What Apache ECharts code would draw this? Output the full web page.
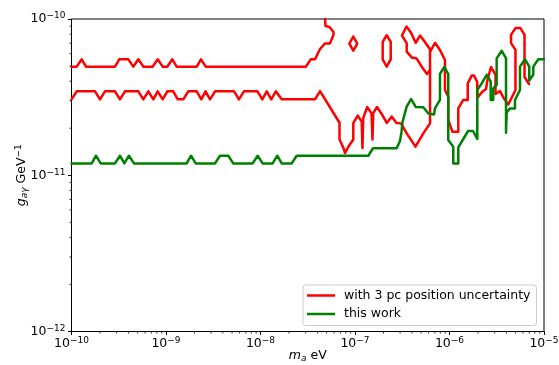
<!DOCTYPE html>
<html>
<head>
<meta charset="utf-8">
<script src="https://cdn.jsdelivr.net/npm/echarts@6/dist/echarts.min.js"></script>
<style>
html, body { margin: 0; padding: 0; background: #fff; }
#chart { width: 559px; height: 365px; }
</style>
</head>
<body>
<div id="chart"></div>
<script>
// Contours in the (m_a, g_aγ) plane, points given as [log10(m_a / eV), log10(g_aγ / GeV^-1)]

// "with 3 pc position uncertainty" - upper branch, leaves through the top edge
const redUpper = [
  [-10.000,-10.305],[-9.945,-10.305],[-9.892,-10.258],[-9.847,-10.305],[-9.540,-10.305],
  [-9.494,-10.258],[-9.399,-10.258],[-9.346,-10.305],[-9.293,-10.258],[-9.240,-10.305],
  [-9.141,-10.305],[-9.088,-10.258],[-9.035,-10.305],[-8.986,-10.305],[-8.933,-10.258],
  [-8.887,-10.305],[-8.675,-10.305],[-8.630,-10.258],[-8.580,-10.305],[-7.519,-10.305],
  [-7.469,-10.258],[-7.423,-10.258],[-7.370,-10.192],[-7.317,-10.156],[-7.265,-10.156],
  [-7.228,-10.102],[-7.228,-10.083],[-7.270,-10.051],[-7.312,-10.045],[-7.317,-10.000]
];

// "with 3 pc position uncertainty" - lower branch running across to the high-mass end
const redLower = [
  [-10.000,-10.514],[-9.945,-10.463],[-9.751,-10.463],[-9.698,-10.514],[-9.646,-10.463],
  [-9.540,-10.463],[-9.487,-10.514],[-9.434,-10.463],[-9.293,-10.463],[-9.240,-10.514],
  [-9.187,-10.463],[-9.134,-10.514],[-9.088,-10.463],[-9.035,-10.514],[-8.986,-10.463],
  [-8.923,-10.463],[-8.876,-10.514],[-8.817,-10.514],[-8.764,-10.463],[-8.675,-10.463],
  [-8.626,-10.514],[-8.582,-10.463],[-8.534,-10.514],[-8.481,-10.463],[-8.280,-10.463],
  [-8.228,-10.514],[-8.175,-10.463],[-8.032,-10.463],[-7.981,-10.514],[-7.934,-10.463],
  [-7.886,-10.514],[-7.838,-10.463],[-7.776,-10.514],[-7.423,-10.514],[-7.370,-10.461],
  [-7.164,-10.664],[-7.164,-10.771],[-7.122,-10.826],[-7.106,-10.858],[-7.069,-10.816],
  [-7.018,-10.771],[-7.018,-10.666],[-6.971,-10.618],[-6.929,-10.657],[-6.921,-10.826],
  [-6.913,-10.634],[-6.871,-10.563],[-6.825,-10.604],[-6.815,-10.771],[-6.807,-10.602],
  [-6.767,-10.563],[-6.707,-10.618],[-6.663,-10.666],[-6.612,-10.624],[-6.561,-10.666],
  [-6.513,-10.668],[-6.453,-10.732],[-6.360,-10.817],[-6.277,-10.732],[-6.206,-10.668],
  [-6.206,-10.194],[-6.270,-10.139],[-6.312,-10.106],[-6.358,-10.152],[-6.407,-10.088],
  [-6.455,-10.048],[-6.503,-10.106],[-6.453,-10.154],[-6.453,-10.209],[-6.400,-10.246],
  [-6.347,-10.253],[-6.294,-10.305],[-6.238,-10.352],[-6.206,-10.326],[-6.206,-10.211],
  [-6.153,-10.152],[-6.101,-10.198],[-6.048,-10.262],[-6.048,-10.454],[-6.013,-10.497],
  [-6.013,-10.646],[-5.970,-10.721],[-5.907,-10.721],[-5.907,-10.572],[-5.854,-10.518],
  [-5.807,-10.518],[-5.807,-10.412],[-5.765,-10.362],[-5.741,-10.362],[-5.706,-10.403],
  [-5.706,-10.506],[-5.656,-10.467],[-5.614,-10.448],[-5.598,-10.390],[-5.561,-10.307],
  [-5.513,-10.358],[-5.513,-10.480],[-5.466,-10.461],[-5.423,-10.509],[-5.378,-10.547],
  [-5.349,-10.512],[-5.302,-10.454],[-5.302,-10.198],[-5.349,-10.154],[-5.349,-10.102],
  [-5.302,-10.058],[-5.249,-10.058],[-5.206,-10.102],[-5.206,-10.371],[-5.159,-10.416]
];

// small closed islands of the same contour
const redDiamond = [
  [-7.018,-10.112],[-6.976,-10.158],[-7.018,-10.203],[-7.060,-10.158],[-7.018,-10.112]
];
const redHexagon = [
  [-6.665,-10.104],[-6.622,-10.147],[-6.622,-10.259],[-6.665,-10.305],
  [-6.707,-10.259],[-6.707,-10.147],[-6.665,-10.104]
];

// "this work"
const greenContour = [
  [-10.000,-10.924],[-9.786,-10.924],[-9.741,-10.875],[-9.691,-10.924],[-9.540,-10.924],
  [-9.487,-10.875],[-9.441,-10.924],[-9.392,-10.875],[-9.339,-10.924],[-8.781,-10.924],
  [-8.735,-10.875],[-8.686,-10.924],[-8.481,-10.924],[-8.429,-10.875],[-8.341,-10.875],
  [-8.288,-10.924],[-8.083,-10.924],[-8.030,-10.875],[-7.977,-10.924],[-7.871,-10.924],
  [-7.822,-10.875],[-7.776,-10.924],[-7.670,-10.924],[-7.617,-10.875],[-6.859,-10.875],
  [-6.810,-10.827],[-6.559,-10.827],[-6.524,-10.781],[-6.508,-10.723],[-6.497,-10.659],
  [-6.453,-10.561],[-6.407,-10.512],[-6.358,-10.563],[-6.277,-10.565],[-6.224,-10.605],
  [-6.164,-10.611],[-6.153,-10.570],[-6.101,-10.518],[-6.101,-10.352],[-6.055,-10.307],
  [-6.013,-10.352],[-6.013,-10.774],[-5.960,-10.817],[-5.960,-10.924],[-5.907,-10.924],
  [-5.907,-10.822],[-5.854,-10.768],[-5.804,-10.717],[-5.751,-10.717],[-5.706,-10.768],
  [-5.706,-10.454],[-5.659,-10.412],[-5.606,-10.358],[-5.564,-10.401],[-5.564,-10.518],
  [-5.537,-10.518],[-5.537,-10.444],[-5.501,-10.422],[-5.501,-10.252],[-5.448,-10.203],
  [-5.402,-10.252],[-5.402,-10.728],[-5.395,-10.598],[-5.360,-10.572],[-5.307,-10.572],
  [-5.307,-10.518],[-5.254,-10.454],[-5.254,-10.305],[-5.201,-10.258],[-5.156,-10.305],
  [-5.156,-10.394],[-5.113,-10.355],[-5.113,-10.305],[-5.060,-10.258],[-5.000,-10.258]
];

// axis decades (exponents of ten)
const xDecades = [-10, -9, -8, -7, -6, -5];
const yDecades = [-12, -11, -10];

const seriesNames = ['with 3 pc position uncertainty', 'this work'];
const seriesColors = ['#ff0000', '#008000'];

const FONT = 'DejaVu Sans';
const toValues = pts => pts.map(([a, b]) => [Math.pow(10, a), Math.pow(10, b)]);

function minorValues(decades) {
  const out = [];
  for (let i = 0; i < decades.length - 1; i++) {
    for (let k = 2; k <= 9; k++) out.push(k * Math.pow(10, decades[i]));
  }
  return out;
}

const xMin = Math.pow(10, xDecades[0]), xMax = Math.pow(10, xDecades[xDecades.length - 1]);
const yMin = Math.pow(10, yDecades[0]), yMax = Math.pow(10, yDecades[yDecades.length - 1]);

const powLabel = v => {
  const e = Math.round(Math.log10(v));
  return '{b|10}{s|' + (e < 0 ? '\u2212' : '') + Math.abs(e) + '}';
};
const powRich = {
  b: { fontFamily: FONT, fontSize: 12.5, color: '#000', lineHeight: 15 },
  s: { fontFamily: FONT, fontSize: 9, color: '#000', lineHeight: 9, verticalAlign: 'top' }
};

function lineSeries(name, color, pts) {
  return {
    type: 'line', name: name, data: toValues(pts),
    symbol: 'none', showSymbol: false, smooth: false,
    lineStyle: { color: color, width: 2.5, join: 'round', cap: 'round' },
    itemStyle: { color: color },
    emphasis: { disabled: true }, silent: true, z: 3
  };
}

function minorTickSeries(axis) {
  const vals = minorValues(axis === 'x' ? xDecades : yDecades);
  return {
    type: 'custom', silent: true, clip: false, z: 5,
    data: vals.map(v => axis === 'x' ? [v, yMin] : [xMin, v]),
    renderItem: (params, api) => {
      const p = api.coord([api.value(0), api.value(1)]);
      const shape = axis === 'x'
        ? { x1: p[0], y1: p[1], x2: p[0], y2: p[1] + 2 }
        : { x1: p[0] - 2, y1: p[1], x2: p[0], y2: p[1] };
      return { type: 'line', shape: shape, style: { stroke: '#000', lineWidth: 0.8 } };
    }
  };
}

const chart = echarts.init(document.getElementById('chart'), null, { renderer: 'canvas' });
chart.setOption({
  animation: false,
  backgroundColor: '#fff',
  grid: {
    left: 71.5, right: 15, top: 19, bottom: 33.5,
    containLabel: false, outerBoundsMode: 'none',
    show: true, borderColor: '#000', borderWidth: 1, backgroundColor: 'transparent'
  },
  xAxis: {
    type: 'log', logBase: 10, min: xMin, max: xMax,
    axisLine: { show: true, lineStyle: { color: '#000', width: 1 } },
    axisTick: { show: true, inside: false, length: 3.5, lineStyle: { color: '#000', width: 1 } },
    splitLine: { show: false }, minorTick: { show: false },
    axisLabel: { margin: 5, formatter: powLabel, rich: powRich, showMinLabel: true, showMaxLabel: true },
    name: '{i|m}{sb|a}{n| eV}', nameLocation: 'middle', nameGap: 17, nameMoveOverlap: false,
    nameTextStyle: {
      rich: {
        i: { fontFamily: FONT, fontSize: 12.5, fontStyle: 'italic', color: '#000', lineHeight: 15 },
        sb: { fontFamily: FONT, fontSize: 9, fontStyle: 'italic', color: '#000', lineHeight: 9, verticalAlign: 'bottom' },
        n: { fontFamily: FONT, fontSize: 12.5, color: '#000', lineHeight: 15 }
      }
    }
  },
  yAxis: {
    type: 'log', logBase: 10, min: yMin, max: yMax,
    axisLine: { show: true, lineStyle: { color: '#000', width: 1 } },
    axisTick: { show: true, inside: false, length: 3.5, lineStyle: { color: '#000', width: 1 } },
    splitLine: { show: false }, minorTick: { show: false },
    axisLabel: { margin: 6, formatter: powLabel, rich: powRich, showMinLabel: true, showMaxLabel: true },
    name: '{i|g}{sb|a\u03b3}{n| GeV}{sp|\u22121}', nameLocation: 'middle', nameGap: 42, nameRotate: 90,
    nameMoveOverlap: false,
    nameTextStyle: {
      rich: {
        i: { fontFamily: FONT, fontSize: 12.5, fontStyle: 'italic', color: '#000', lineHeight: 15 },
        sb: { fontFamily: FONT, fontSize: 9, fontStyle: 'italic', color: '#000', lineHeight: 9, verticalAlign: 'bottom' },
        n: { fontFamily: FONT, fontSize: 12.5, color: '#000', lineHeight: 15 },
        sp: { fontFamily: FONT, fontSize: 9, color: '#000', lineHeight: 9, verticalAlign: 'top' }
      }
    }
  },
  legend: {
    show: true, orient: 'vertical', left: 303, top: 285,
    data: seriesNames.map(n => ({ name: n, icon: 'rect' })),
    backgroundColor: 'rgba(255,255,255,0.8)', borderColor: '#cccccc', borderWidth: 1, borderRadius: 3,
    padding: [3, 6, 4, 4], itemWidth: 28, itemHeight: 2.5, itemGap: 3.5,
    textStyle: { fontFamily: FONT, fontSize: 12.5, color: '#000', lineHeight: 15, padding: [0, 0, 0, 4] },
    selectedMode: false
  },
  series: [
    lineSeries(seriesNames[0], seriesColors[0], redUpper),
    lineSeries(seriesNames[0], seriesColors[0], redLower),
    lineSeries(seriesNames[0], seriesColors[0], redDiamond),
    lineSeries(seriesNames[0], seriesColors[0], redHexagon),
    lineSeries(seriesNames[1], seriesColors[1], greenContour),
    minorTickSeries('x'),
    minorTickSeries('y')
  ]
});
</script>
</body>
</html>
